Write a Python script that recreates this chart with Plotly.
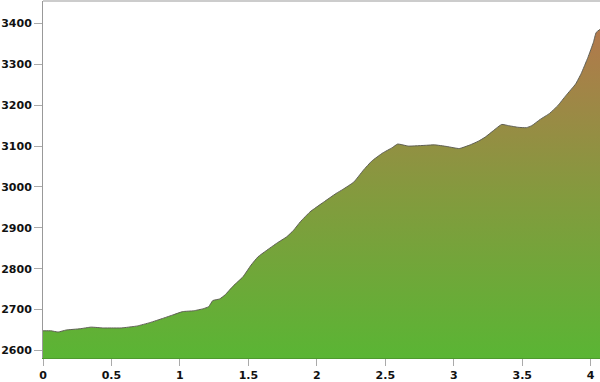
import plotly.graph_objects as go

# distance (km) and elevation (m)
distance = [0.00, 0.06, 0.11, 0.17, 0.27, 0.35, 0.44, 0.50, 0.57, 0.65, 0.69, 0.78, 0.88,
            0.95, 1.02, 1.10, 1.17, 1.21, 1.24, 1.29, 1.33, 1.39, 1.46, 1.52, 1.57, 1.63,
            1.71, 1.78, 1.83, 1.88, 1.95, 2.05, 2.14, 2.19, 2.27, 2.34, 2.40, 2.48, 2.55,
            2.59, 2.67, 2.80, 2.86, 2.95, 3.04, 3.12, 3.18, 3.23, 3.29, 3.35, 3.40, 3.47,
            3.53, 3.57, 3.63, 3.70, 3.76, 3.82, 3.89, 3.93, 3.98, 4.02, 4.04, 4.07]
elevation = [2648, 2648, 2645, 2650, 2653, 2657, 2655, 2655, 2655, 2658, 2660, 2668, 2679,
             2687, 2695, 2697, 2702, 2707, 2722, 2726, 2736, 2758, 2780, 2809, 2829, 2844,
             2863, 2878, 2894, 2915, 2939, 2963, 2984, 2994, 3012, 3041, 3063, 3083, 3096,
             3105, 3100, 3102, 3103, 3099, 3094, 3103, 3112, 3122, 3138, 3153, 3150, 3146,
             3145, 3150, 3165, 3180, 3199, 3224, 3252, 3277, 3317, 3354, 3378, 3386]

x_ticks = [0, 0.5, 1, 1.5, 2, 2.5, 3, 3.5, 4]
x_labels = ["0", "0.5", "1", "1.5", "2", "2.5", "3", "3.5", "4"]
y_ticks = [2600, 2700, 2800, 2900, 3000, 3100, 3200, 3300, 3400]
y_labels = [str(v) for v in y_ticks]

y_min, y_max = 2581.5, 3455
x_min, x_max = 0, 4.068

fig = go.Figure()
fig.add_trace(go.Scatter(
    x=distance, y=elevation, mode="lines", fill="tozeroy",
    line=dict(color="#5f5f55", width=1, shape="spline", smoothing=0.4),
    fillgradient=dict(type="vertical",
                      colorscale=[[0, "#5ab534"], [0.5, "#849a3e"], [1, "#b3784c"]],
                      start=y_min, stop=3390),
    hoverinfo="skip", showlegend=False,
))

tickfont = dict(family="DejaVu Sans", size=11, color="#111111", weight="bold")
fig.update_layout(
    width=600, height=382,
    margin=dict(l=43, r=0, t=1, b=24),
    paper_bgcolor="white", plot_bgcolor="white",
    xaxis=dict(range=[x_min, x_max], tickvals=x_ticks, ticktext=x_labels,
               ticks="outside", ticklen=7, tickcolor="#aaaaaa", tickwidth=1,
               showgrid=False, zeroline=False, showline=True, linecolor="#4e9a2e",
               linewidth=1, tickfont=tickfont),
    yaxis=dict(range=[y_min, y_max], tickvals=y_ticks, ticktext=y_labels,
               ticks="outside", ticklen=8, tickcolor="#aaaaaa", tickwidth=1,
               showgrid=False, zeroline=False, showline=True, linecolor="#999999",
               linewidth=1, tickfont=tickfont),
)
# top border
fig.add_shape(type="line", xref="paper", yref="paper", x0=0, x1=1, y0=1, y1=1,
              line=dict(color="#999999", width=1))

fig.write_html("out.html")
